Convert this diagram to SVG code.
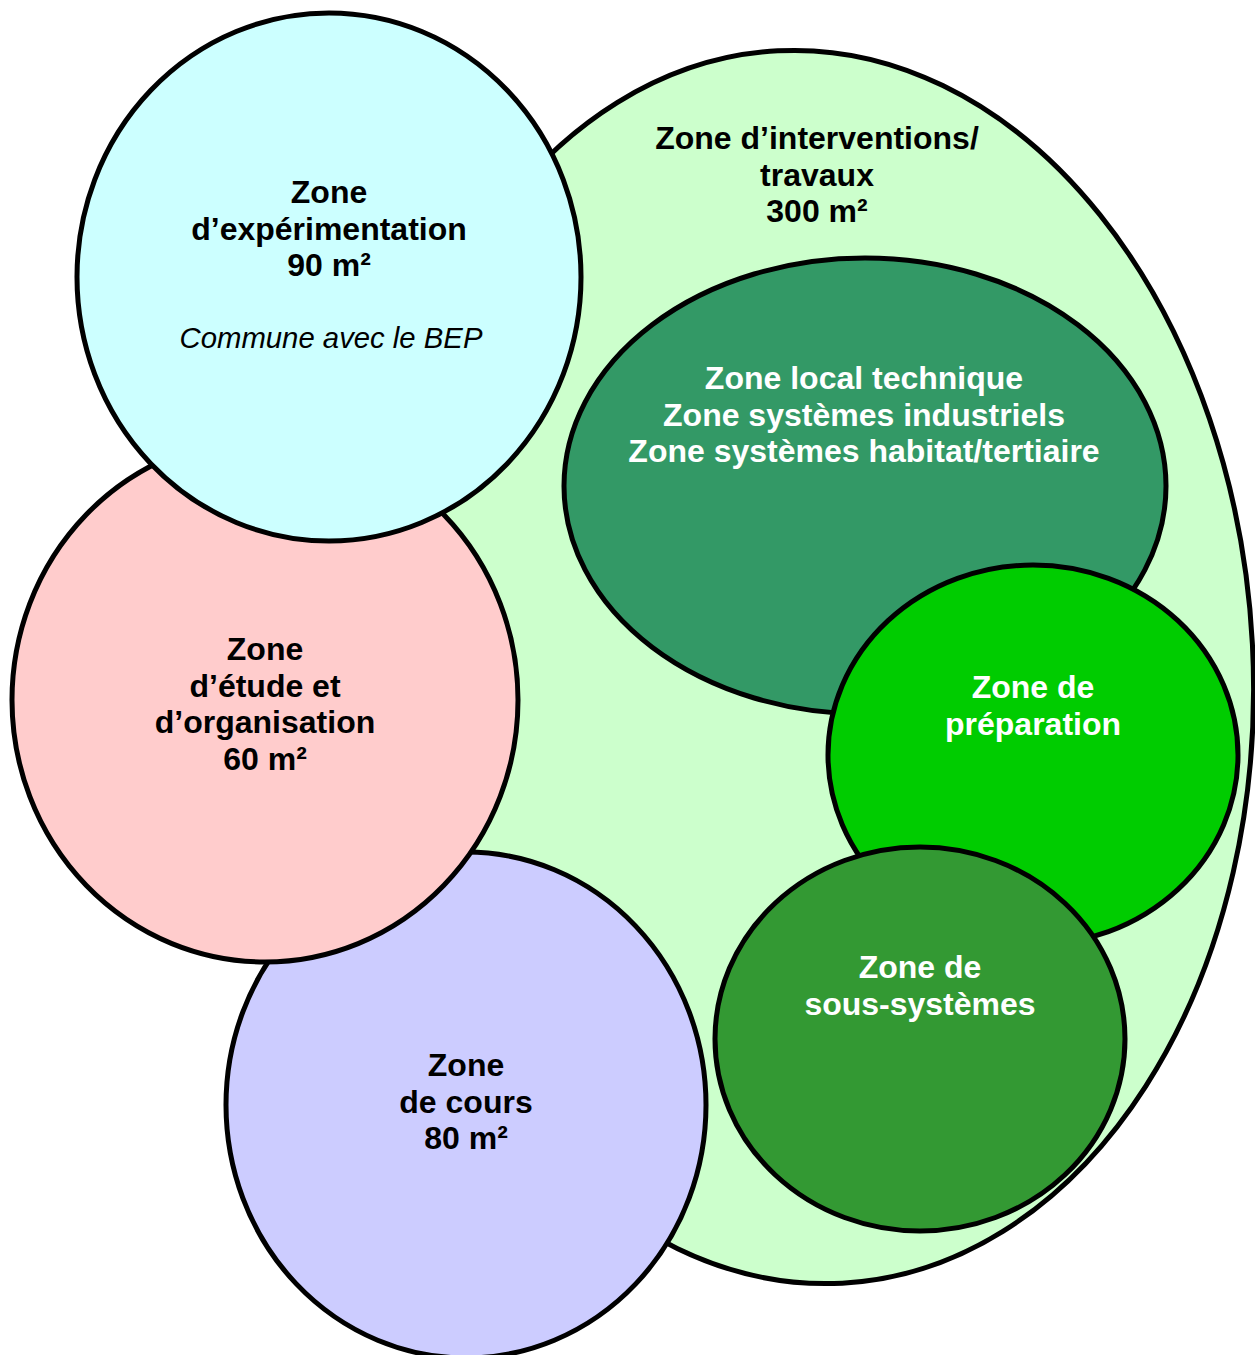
<svg xmlns="http://www.w3.org/2000/svg" width="1255" height="1355" viewBox="0 0 1255 1355">
<style>
.z{stroke:#000;stroke-width:5}
.t{font-family:"Liberation Sans",Arial,sans-serif;font-weight:bold;font-size:32px;text-anchor:middle}
.b{fill:#000}
.w{fill:#fff}
.i{font-family:"Liberation Sans",Arial,sans-serif;font-style:italic;font-size:29.3px;text-anchor:middle;fill:#000}
</style>
<rect width="1255" height="1355" fill="#fff"/>
<g id="zone-interventions">
<ellipse class="z" cx="810" cy="667" rx="443" ry="617" fill="#CCFFCC" transform="rotate(-3 810 667)"/>
<text class="t b" x="817"><tspan x="817" y="149">Zone d’interventions/</tspan><tspan x="817" y="185.6">travaux</tspan><tspan x="817" y="222.2">300 m²</tspan></text>
</g>
<g id="zone-local-technique">
<ellipse class="z" cx="865" cy="486" rx="301" ry="228" fill="#339966"/>
<text class="t w"><tspan x="864" y="389">Zone local technique</tspan><tspan x="864" y="425.6">Zone systèmes industriels</tspan><tspan x="864" y="462.2">Zone systèmes habitat/tertiaire</tspan></text>
</g>
<g id="zone-preparation">
<ellipse class="z" cx="1033" cy="755" rx="205" ry="190" fill="#00CC00"/>
<text class="t w"><tspan x="1033" y="698">Zone de</tspan><tspan x="1033" y="734.6">préparation</tspan></text>
</g>
<g id="zone-sous-systemes">
<ellipse class="z" cx="920" cy="1039" rx="205" ry="192" fill="#339933"/>
<text class="t w"><tspan x="920" y="978">Zone de</tspan><tspan x="920" y="1014.6">sous-systèmes</tspan></text>
</g>
<g id="zone-cours">
<ellipse class="z" cx="466" cy="1105" rx="240" ry="253" fill="#CCCCFF"/>
<text class="t b"><tspan x="466" y="1076">Zone</tspan><tspan x="466" y="1112.6">de cours</tspan><tspan x="466" y="1149.2">80 m²</tspan></text>
</g>
<g id="zone-etude">
<ellipse class="z" cx="265" cy="700" rx="253" ry="262" fill="#FFCCCC"/>
<text class="t b"><tspan x="265" y="660">Zone</tspan><tspan x="265" y="696.6">d’étude et</tspan><tspan x="265" y="733.2">d’organisation</tspan><tspan x="265" y="769.8">60 m²</tspan></text>
</g>
<g id="zone-experimentation">
<ellipse class="z" cx="329" cy="277" rx="252" ry="264" fill="#CCFFFF"/>
<text class="t b"><tspan x="329" y="203">Zone</tspan><tspan x="329" y="239.6">d’expérimentation</tspan><tspan x="329" y="276.2">90 m²</tspan></text>
<text class="i" x="331" y="348">Commune avec le BEP</text>
</g>
<g id="connectors"/>
</svg>
